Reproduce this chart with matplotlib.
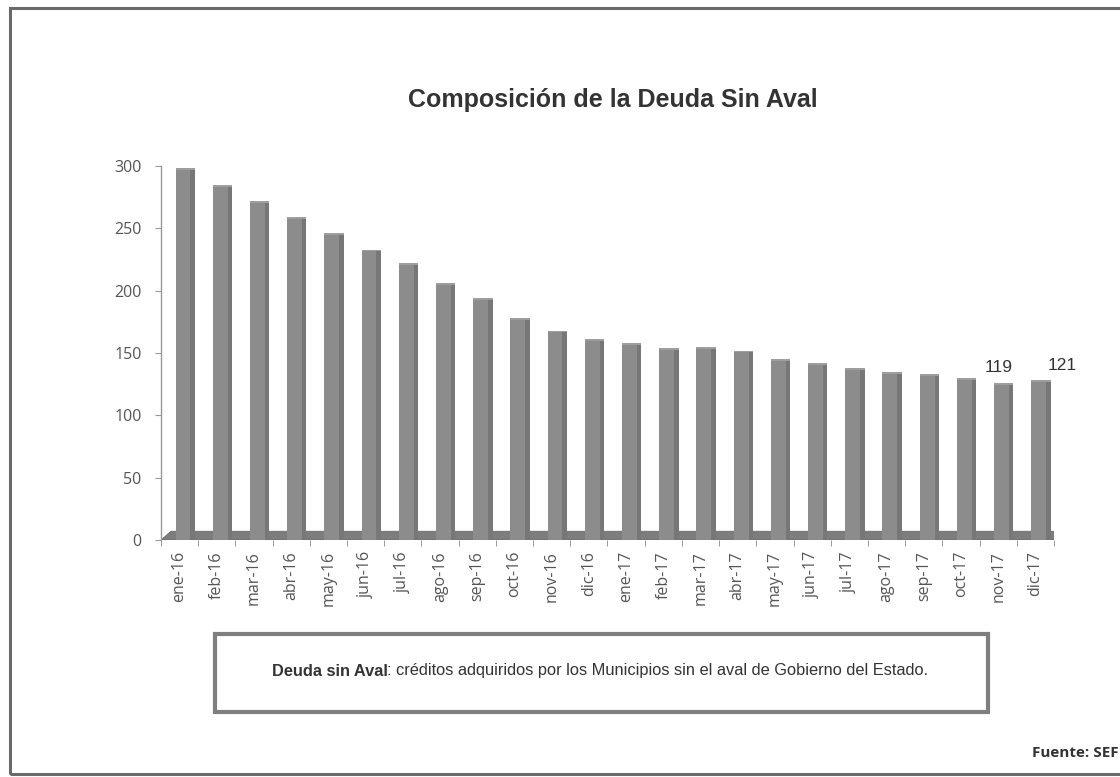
import numpy as np
import matplotlib.pyplot as plt
from matplotlib.patches import Rectangle, Polygon

# data
meses = ["ene-16", "feb-16", "mar-16", "abr-16", "may-16", "jun-16", "jul-16", "ago-16",
         "sep-16", "oct-16", "nov-16", "dic-16", "ene-17", "feb-17", "mar-17", "abr-17",
         "may-17", "jun-17", "jul-17", "ago-17", "sep-17", "oct-17", "nov-17", "dic-17"]
deuda = [291, 278, 265, 252, 239, 226, 215, 199, 187, 171, 161, 154,
         151, 147, 148, 145, 138, 135, 131, 128, 126, 123, 119, 121]
etiquetas = {"nov-17": 119, "dic-17": 121}

titulo = "Composición de la Deuda Sin Aval"
nota_bold = "Deuda sin Aval"
nota = ": créditos adquiridos por los Municipios sin el aval de Gobierno del Estado."
fuente = "Fuente: SEF"

W, H = 1120, 777
fig = plt.figure(figsize=(W / 100, H / 100), dpi=100)
fig.patch.set_facecolor("white")

def fx(px):
    return px / W

def fy(py):
    return 1 - py / H

# outer frame (right side is cut off in the original)
fig.patches.append(Rectangle((fx(10), fy(774)), 1.05, fy(8) - fy(774), transform=fig.transFigure,
                             fill=False, edgecolor="#6a6a6a", linewidth=2.2))

ax = fig.add_axes([fx(161), fy(540), fx(1054) - fx(161), fy(166) - fy(540)])
n = len(deuda)
pos = np.arange(n)
depth = 7      # fake 3d back plane offset (y units)
dx = 0.27      # fake 3d offset (x units)
shift = 0.15
w = 0.52

# floor
floor = Polygon([(-0.5, 0), (n - 0.5, 0), (n - 0.5 + dx, depth), (-0.5 + dx, depth)],
                closed=True, facecolor="#7d7d7d", edgecolor="#6a6a6a", linewidth=0.6, zorder=1)
ax.add_patch(floor)

# bars: base stub, front face, darker side strip
ax.bar(pos + shift, [depth] * n, width=w, color="#8c8c8c", zorder=2)
ax.bar(pos + shift, deuda, bottom=depth, width=w, color="#8c8c8c", zorder=2)
ax.bar(pos + shift + w / 2 - 0.06, np.array(deuda) + depth, width=0.12, color="#777777", zorder=3)
ax.bar(pos + shift, [1.5] * n, bottom=np.array(deuda) + depth - 1.5, width=w,
       color="#9e9e9e", zorder=3)

for i, m in enumerate(meses):
    if m in etiquetas:
        off = 0.72 if i == n - 1 else 0.0
        ax.text(i + off, etiquetas[m] + 19, str(etiquetas[m]), ha="center", va="center",
                fontsize=12.5, color="#333333", family="Liberation Sans")

ax.set_xlim(-0.5, n - 0.5)
ax.set_ylim(0, 300)
ax.set_yticks(range(0, 301, 50))
ax.set_xticks(pos)
ax.set_xticklabels(meses, rotation=90, fontsize=11.5, color="#555555", family="Open Sans")
ax.set_xticks(np.arange(-0.5, n, 1), minor=True)
ax.tick_params(axis="x", which="major", length=0, pad=8)
ax.tick_params(axis="x", which="minor", length=4, color="#888888", direction="out")
ax.tick_params(axis="y", length=4, color="#999999", pad=10, labelcolor="#555555", labelsize=11.5)
for lbl in ax.get_yticklabels():
    lbl.set_family("Open Sans")

for s in ["top", "right", "bottom"]:
    ax.spines[s].set_visible(False)
ax.spines["left"].set_color("#999999")
ax.spines["left"].set_linewidth(1.0)
ax.patch.set_alpha(0)

fig.text(fx(613), fy(100), titulo, ha="center", va="center", fontsize=18,
         fontweight="bold", color="#333333", family="Liberation Sans")

# note box
fig.patches.append(Rectangle((fx(215), fy(712)), fx(988) - fx(215), fy(634) - fy(712),
                             transform=fig.transFigure, fill=False, edgecolor="#7f7f7f",
                             linewidth=3))
t1 = fig.text(0, fy(671), nota_bold, ha="left", va="center", fontsize=11.8,
              fontweight="bold", color="#333333", family="Liberation Sans")
t2 = fig.text(0, fy(671), nota, ha="left", va="center", fontsize=11.8,
              color="#333333", family="Liberation Sans")
r = fig.canvas.get_renderer()
w1 = t1.get_window_extent(r).width
w2 = t2.get_window_extent(r).width
x0 = 600 - (w1 + w2) / 2
t1.set_x(fx(x0))
t2.set_x(fx(x0 + w1))

fig.text(fx(1032), fy(753), fuente, ha="left", va="center", fontsize=11,
         fontweight="bold", color="#333333", family="Open Sans")

plt.savefig("out.png", dpi=100)
